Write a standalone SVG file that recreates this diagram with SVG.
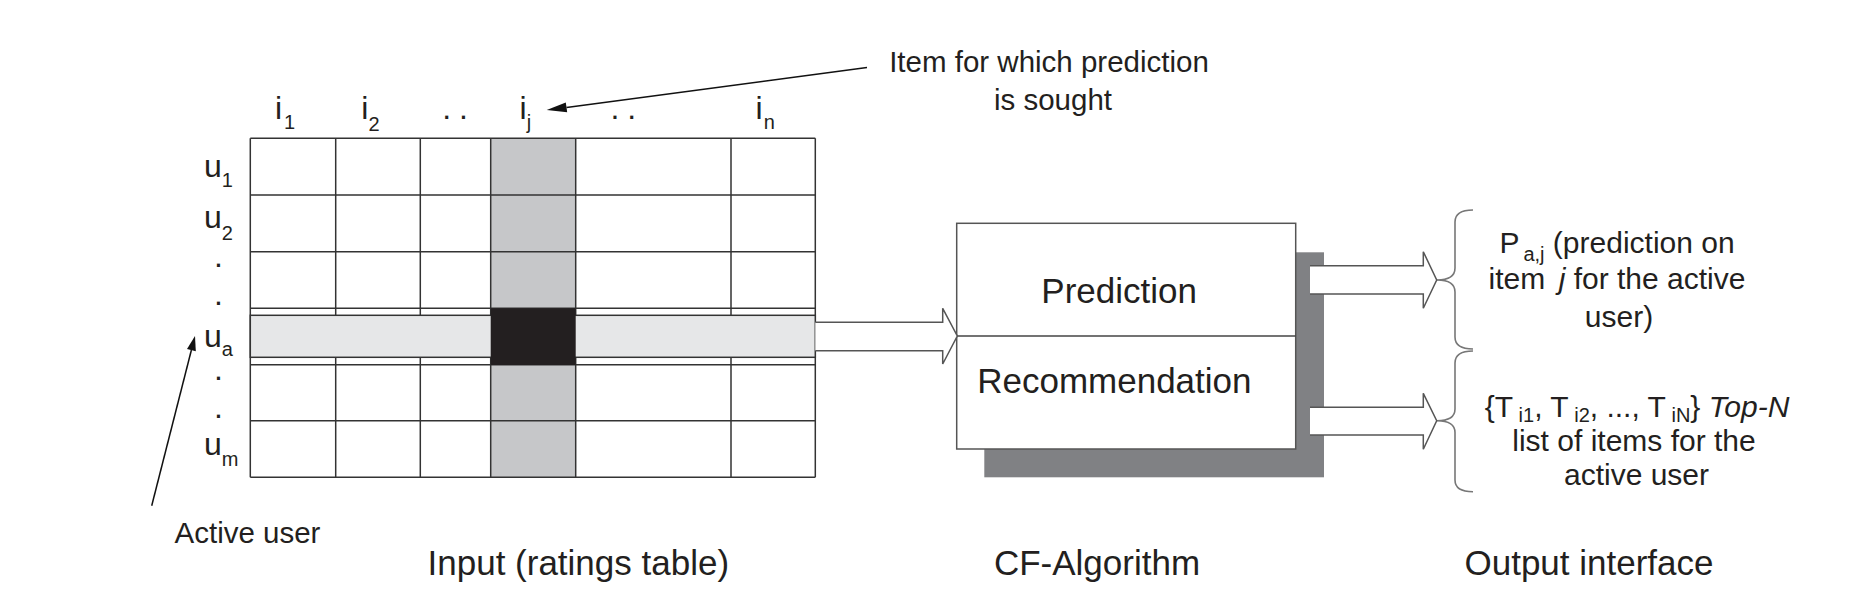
<svg xmlns="http://www.w3.org/2000/svg" width="1871" height="603" viewBox="0 0 1871 603">
<style>
text{font-family:"Liberation Sans",Arial,sans-serif;fill:#231f20}
.big{font-size:35px}
.lab{font-size:32px}
.sub{font-size:20px}
.out{font-size:30px}
.note{font-size:29.5px}
.grid{stroke:#333;stroke-width:1.5;fill:none}
.hollow{fill:#fff;stroke:#555;stroke-width:1.5}
.brace{fill:none;stroke:#777;stroke-width:1.6}
.ptr{stroke:#111;stroke-width:1.5;fill:none}
</style>
<rect width="1871" height="603" fill="#fff"/>
<g id="ratings-table">
  <rect x="250.3" y="138.3" width="565" height="339" fill="#fff"/>
  <rect x="490.7" y="138.3" width="85" height="339" fill="#c6c7c9"/>
  <g class="grid">
    <path d="M250.3,138.3V477.3M335.7,138.3V477.3M420.3,138.3V477.3M490.7,138.3V477.3M575.7,138.3V477.3M731,138.3V477.3M815.3,138.3V477.3"/>
    <path d="M250.3,138.3H815.3M250.3,195H815.3M250.3,251.7H815.3M250.3,308.3H815.3M250.3,364.7H815.3M250.3,420.7H815.3M250.3,477.3H815.3"/>
  </g>
  <rect x="250.3" y="315.3" width="565" height="42" fill="#e6e7e8" stroke="#333" stroke-width="1.5"/>
  <rect x="490.7" y="308.3" width="85" height="56.7" fill="#231f20"/>
  <text class="lab" x="275" y="119.3">i<tspan class="sub" dx="2" dy="10">1</tspan></text>
  <text class="lab" x="361.3" y="119.3">i<tspan class="sub" dy="11.4">2</tspan></text>
  <text class="lab" x="442.2 458.9" y="119.3">..</text>
  <text class="lab" x="519.6" y="119.3">i<tspan class="sub" dy="9.5">j</tspan></text>
  <text class="lab" x="610.5 627.2" y="119.3">..</text>
  <text class="lab" x="755.6" y="119.3">i<tspan class="sub" dx="1" dy="10">n</tspan></text>
  <text class="lab" x="204" y="176.7">u<tspan class="sub" dy="10">1</tspan></text>
  <text class="lab" x="204" y="228.3">u<tspan class="sub" dy="11.7">2</tspan></text>
  <text class="lab" x="214" y="267">.</text>
  <text class="lab" x="214" y="304.7">.</text>
  <text class="lab" x="204" y="346.7">u<tspan class="sub" dy="9.5">a</tspan></text>
  <text class="lab" x="214" y="380.3">.</text>
  <text class="lab" x="214" y="418">.</text>
  <text class="lab" x="204" y="455">u<tspan class="sub" dy="10.7">m</tspan></text>
  <text class="big" x="578.3" y="575" text-anchor="middle">Input (ratings table)</text>
</g>
<g id="label-item">
  <text class="note" x="1049" y="71.7" text-anchor="middle">Item for which prediction</text>
  <text class="note" x="1053" y="110" text-anchor="middle">is sought</text>
</g>
<g id="label-active">
  <text class="note" x="247.5" y="542.7" text-anchor="middle">Active user</text>
</g>
<g id="cf-algorithm">
  <rect x="984.3" y="252.3" width="339.7" height="225" fill="#808184"/>
  <rect x="956.7" y="223.3" width="339" height="225.7" fill="#fff" stroke="#555" stroke-width="1.5"/>
  <path d="M956.7,336H1295.7" stroke="#444" stroke-width="1.5"/>
  <text class="big" x="1041.3" y="303.3">Prediction</text>
  <text class="big" x="977.2" y="392.7">Recommendation</text>
  <text class="big" x="1097" y="575" text-anchor="middle">CF-Algorithm</text>
</g>
<g id="output-prediction">
  <path class="brace" d="M1473,210Q1455,210 1455,222V268Q1455,280 1437,280Q1455,280 1455,292V337Q1455,349 1473,349"/>
  <text class="out" x="1617" y="253.3" text-anchor="middle">P<tspan class="sub" dx="4" dy="8">a,j</tspan><tspan dy="-8"> (prediction on</tspan></text>
  <text class="out" x="1617" y="289" text-anchor="middle">item <tspan font-style="italic" dx="5">j</tspan> for the active</text>
  <text class="out" x="1619" y="327" text-anchor="middle">user)</text>
</g>
<g id="output-recommendation">
  <path class="brace" d="M1473,351Q1455,351 1455,363V409Q1455,420.7 1437,420.7Q1455,420.7 1455,432.5V480Q1455,491.7 1473,491.7"/>
  <text class="out" x="1637" y="417" text-anchor="middle">{T<tspan class="sub" dy="5"> i1</tspan><tspan dy="-5">, T</tspan><tspan class="sub" dy="5"> i2</tspan><tspan dy="-5">, ..., T</tspan><tspan class="sub" dy="5"> iN</tspan><tspan dy="-5">} </tspan><tspan font-style="italic">Top-N</tspan></text>
  <text class="out" x="1634" y="451" text-anchor="middle">list of items for the</text>
  <text class="out" x="1636.5" y="485" text-anchor="middle">active user</text>
  <text class="big" x="1589" y="575" text-anchor="middle">Output interface</text>
</g>
<g id="connectors">
  <path class="hollow" d="M815.3,322.3H942.7V308.3L957.3,336L942.7,364V350.7H815.3"/>
  <path class="hollow" d="M1310,265.7H1423.3V251.7L1436.7,280L1423.3,308.3V294H1310"/>
  <path class="hollow" d="M1310,407.3H1423.3V393.3L1436.7,420.7L1423.3,449.3V435H1310"/>
  <path class="ptr" d="M867,67.5L566.5,107.4"/>
  <polygon points="546.7,110 567.2,112.3 565.8,102.4" fill="#111"/>
  <path class="ptr" d="M151.7,505.7L191.4,350"/>
  <polygon points="195,336 195.8,351.2 187,348.9" fill="#111"/>
</g>
</svg>
